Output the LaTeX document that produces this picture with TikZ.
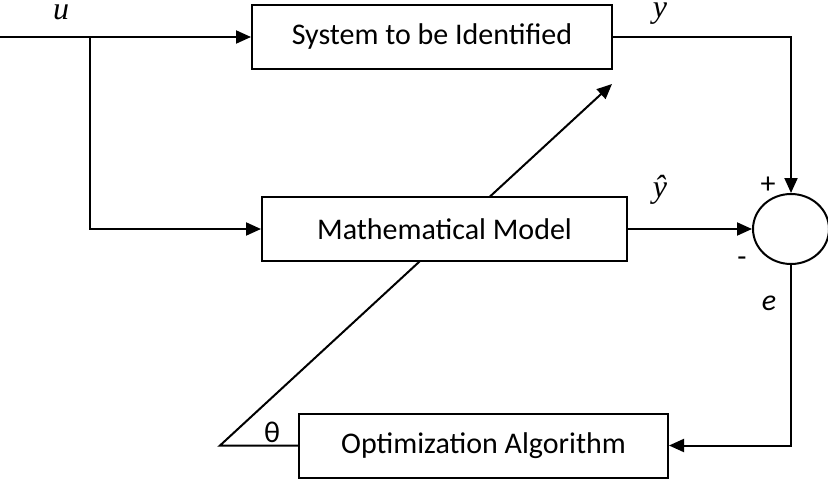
\documentclass[tikz,border=0pt]{standalone}
\usepackage{fontspec}
\setmainfont{Carlito}
\newfontfamily\timesfont{Liberation Serif}
\usetikzlibrary{shapes.geometric, positioning, arrows.meta, backgrounds}

\begin{document}
\begin{tikzpicture}[x=0.5pt, y=-0.5pt, font=\fontsize{15}{18}\selectfont]
    % Define styles
    \tikzstyle{block} = [rectangle, draw, fill=white, line width=1pt, minimum height=32pt, inner sep=0pt]
    \tikzstyle{summer} = [ellipse, draw, line width=1pt, minimum width=38pt, minimum height=35pt, inner sep=0pt]
    \tikzstyle{arrow} = [-{Triangle[length=7.5pt, width=6.5pt]}, line width=1pt]
    \tikzstyle{signal} = [inner sep=0pt, font=\fontsize{16}{18}\timesfont\itshape]

    \useasboundingbox (0,0) rectangle (828,498);

    % Nodes
    \node[block, minimum width=180pt] (sys) at (432,37) {System to be Identified};
    \node[block, minimum width=182.5pt] (model) at (444.5,229) {Mathematical Model};
    \node[block, minimum width=184.5pt] (opt) at (483.5,445.5) {Optimization Algorithm};
    \node[summer] (sum) at (791,229) {};

    \coordinate (in) at (0,37);
    \coordinate (split) at (90,37);
    \coordinate (corner) at (220,445.5);
    \coordinate (tip) at (612,84);

    % Labels
    \node[signal] (u) at (61,12) {u};
    \node[signal] (y) at (660,14) {y};
    \node[signal] (yhat) at (660,190) {ŷ};
    \node (plus) at (768,185) {+};
    \node (minus) at (742,262) {-};
    \node (e) at (769,303) {\textit{e}};
    \node (theta) at (272,432) {θ};

    % Connections
    \draw[arrow] (in) -- (sys.west);
    \draw[arrow] (split) |- (model.west);
    \draw[arrow] (sys.east) -| (sum.north);
    \draw[arrow] (model.east) -- (sum.west);
    \draw[arrow] (sum.south) |- (opt.east);
    \begin{pgfonlayer}{background}
        \draw[arrow] (opt.west) -- (corner) -- (tip);
    \end{pgfonlayer}
\end{tikzpicture}
\end{document}
